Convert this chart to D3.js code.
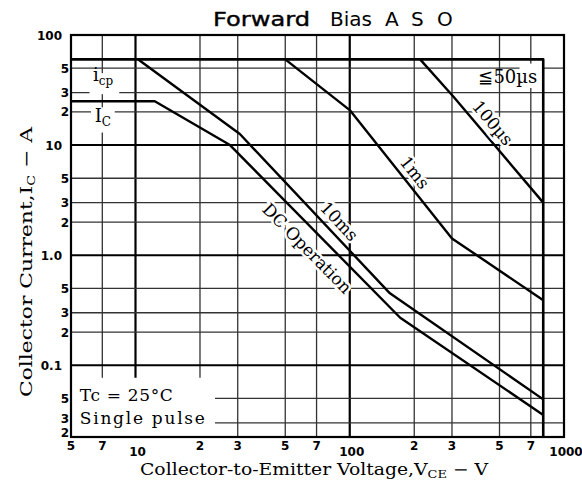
<!DOCTYPE html>
<html><head><meta charset="utf-8">
<script src="https://cdn.jsdelivr.net/npm/d3@7"></script>
<style>body{margin:0;background:#fff}svg{display:block}</style>
</head><body><svg id="c" width="582" height="492"></svg>
<script>
// ---- data ----
const xTicks = [5,7,10,20,30,50,70,100,200,300,500,700,1000];
const xTickLabels = ["5","7","10","2","3","5","7","100","2","3","5","7","1000"];
const yTicks = [100,50,30,20,10,5,3,2,1,0.5,0.3,0.2,0.1,0.05,0.03,0.02];
const yTickLabels = ["100","5","3","2","10","5","3","2","1.0","5","3","2","0.1","5","3","2"];
const xDomain = [5,1000];
const yDomain = [0.0223,100];
// SOA boundaries [V, A]
const curve50us = [[5,60],[800,60],[800,0.0223]];
const curve100us = [[213,60],[305,27.5],[800,3.0]];
const curve1ms = [[50,60],[100,20.8],[300,1.42],[800,0.39]];
const curve10ms = [[10.3,60],[30.7,12.6],[154,0.45],[800,0.049]];
const curveDC = [[5,25],[12.3,25],[27.6,10],[172,0.27],[800,0.0354]];

// ---- layout ----
const L=71, R=564, T=35, B=437;
const svg = d3.select("#c");
const x = d3.scaleLog().domain(xDomain).range([L,R]);
const y = d3.scaleLog().domain(yDomain).range([B,T]);
const serif = "'DejaVu Serif', serif";
const sans = "'DejaVu Sans', sans-serif";

// gridlines
const isDecade = v => Math.abs(Math.log10(v) - Math.round(Math.log10(v))) < 1e-9;
svg.append("g").selectAll("line").data(xTicks.filter(v=>v>xDomain[0]&&v<xDomain[1]))
  .join("line").attr("x1",d=>x(d)).attr("x2",d=>x(d)).attr("y1",T).attr("y2",B)
  .attr("stroke",d=>isDecade(d)?"#000":"#333").attr("stroke-width",d=>isDecade(d)?2.2:1.3);
svg.append("g").selectAll("line").data(yTicks.filter(v=>v>yDomain[0]&&v<yDomain[1]))
  .join("line").attr("y1",d=>y(d)).attr("y2",d=>y(d)).attr("x1",L).attr("x2",R)
  .attr("stroke",d=>isDecade(d)?"#000":"#333").attr("stroke-width",d=>isDecade(d)?2:1.3);

// white boxes behind fixed labels
const boxes = [
  {x0:6.1,x1:8.4,y0:45,y1:29},    // icp
  {x0:6.2,x1:8.0,y0:22,y1:13},    // IC
  {x0:620,x1:790,y0:55,y1:33},    // <=50us
  {x0:5,x1:23.5,y0:0.077,y1:0.0223} // Tc box
];
svg.append("g").selectAll("rect").data(boxes).join("rect")
  .attr("x",d=>x(d.x0)).attr("y",d=>y(d.y0))
  .attr("width",d=>x(d.x1)-x(d.x0)).attr("height",d=>y(d.y1)-y(d.y0))
  .attr("fill","#fff");

// frame
svg.append("rect").attr("x",L).attr("y",T).attr("width",R-L).attr("height",B-T)
  .attr("fill","none").attr("stroke","#000").attr("stroke-width",2.2);

// curves
const line = d3.line().x(d=>x(d[0])).y(d=>y(d[1]));
[curve50us,curve100us,curve1ms,curve10ms,curveDC].forEach((c,i)=>{
  svg.append("path").attr("d",line(c)).attr("fill","none").attr("stroke","#000")
    .attr("stroke-width",i===0?2.6:2.4).attr("stroke-linejoin","round");
});

// tick labels
svg.append("g").selectAll("text").data(xTicks).join("text")
  .attr("x",d=>x(d)+(isDecade(d)&&d>5?2:0)).attr("y",d=>isDecade(d)&&d>5?456:450)
  .attr("text-anchor","middle").attr("font-family",sans).attr("font-weight","bold")
  .attr("font-size",12).text((d,i)=>xTickLabels[i]);
// y labels, squeezed apart near the bottom edge
const yc = yTicks.map(d=>Math.min(y(d), B-5));
for(let i=yc.length-2;i>=0;i--) yc[i]=Math.min(yc[i], yc[i+1]-14);
svg.append("g").selectAll("text").data(yTicks).join("text")
  .attr("x",d=>isDecade(d)?62:69)
  .attr("y",(d,i)=>yc[i]+4.5)
  .attr("text-anchor","end").attr("font-family",sans).attr("font-weight","bold")
  .attr("font-size",12).text((d,i)=>yTickLabels[i]);

// title
const title = svg.append("text").attr("y",26).attr("font-family",sans).attr("font-size",20);
title.append("tspan").attr("x",213).attr("textLength",97).attr("lengthAdjust","spacingAndGlyphs")
  .attr("stroke","#000").attr("stroke-width",0.4).text("Forward");
title.append("tspan").attr("x",330).text("Bias");
title.append("tspan").attr("x",385).text("A");
title.append("tspan").attr("x",411).text("S");
title.append("tspan").attr("x",437).text("O");

// axis titles
const xt = svg.append("text").attr("x",140).attr("y",475)
  .attr("font-family",serif).attr("font-size",16).attr("textLength",348).attr("lengthAdjust","spacingAndGlyphs");
xt.append("tspan").text("Collector-to-Emitter Voltage,V");
xt.append("tspan").attr("font-size",11).attr("dy",3).text("CE");
xt.append("tspan").attr("dy",-3).text(" \u2212 V");

const yt = svg.append("text").attr("transform","translate(32,397) rotate(-90)")
  .attr("font-family",serif).attr("font-size",17).attr("textLength",270).attr("lengthAdjust","spacingAndGlyphs");
yt.append("tspan").text("Collector Current,I");
yt.append("tspan").attr("font-size",11).attr("dy",3).text("C");
yt.append("tspan").attr("dy",-3).text(" \u2212 A");

// fixed annotations
const icp = svg.append("text").attr("x",x(6.33)).attr("y",y(38.2)).attr("font-family",serif).attr("font-size",18);
icp.append("tspan").text("i");
icp.append("tspan").attr("font-size",12).attr("dy",4).text("cp");
const ic = svg.append("text").attr("x",x(6.45)).attr("y",y(16.2)).attr("font-family",serif).attr("font-size",18);
ic.append("tspan").text("I");
ic.append("tspan").attr("font-size",12).attr("dy",4).text("C");
svg.append("text").attr("x",x(750)).attr("y",y(36.6)).attr("text-anchor","end")
  .attr("font-family",serif).attr("font-size",18).text("\u226650\u00b5s");
svg.append("text").attr("x",x(5.5)).attr("y",y(0.0474)).attr("font-family",serif)
  .attr("font-size",17).attr("textLength",93).text("Tc = 25\u00b0C");
svg.append("text").attr("x",x(5.5)).attr("y",y(0.0293)).attr("font-family",serif)
  .attr("font-size",17).attr("textLength",125).text("Single pulse");

// rotated curve labels placed beside their curves
function onCurve(c,v){
  for(let i=0;i<c.length-1;i++){
    const a=c[i],b=c[i+1];
    if(v>=a[0]&&v<=b[0]&&a[0]!==b[0]){
      const t=(Math.log(v)-Math.log(a[0]))/(Math.log(b[0])-Math.log(a[0]));
      const yy=Math.exp(Math.log(a[1])+t*(Math.log(b[1])-Math.log(a[1])));
      const ang=Math.atan2(y(b[1])-y(a[1]),x(b[0])-x(a[0]));
      return {px:x(v),py:y(yy),ang};
    }
  }
}
const rot = [
  {t:"100\u00b5s", c:curve100us, v:418, off:13},
  {t:"1ms", c:curve1ms, v:182, off:12},
  {t:"10ms", c:curve10ms, v:81, off:12.5},
  {t:"DC Operation", c:curveDC, v:72.3, off:-17.5}
].map(d=>{const p=onCurve(d.c,d.v);return {...d,
  cx:p.px+d.off*Math.sin(p.ang), cy:p.py-d.off*Math.cos(p.ang), deg:p.ang*180/Math.PI};});
svg.append("g").selectAll("text").data(rot).join("text")
  .attr("transform",d=>`translate(${d.cx},${d.cy}) rotate(${d.deg})`)
  .attr("text-anchor","middle").attr("dy","0.35em")
  .attr("font-family",serif).attr("font-size",17)
  .attr("stroke","#fff").attr("stroke-width",5).attr("paint-order","stroke")
  .attr("fill","#000").text(d=>d.t);
</script></body></html>
